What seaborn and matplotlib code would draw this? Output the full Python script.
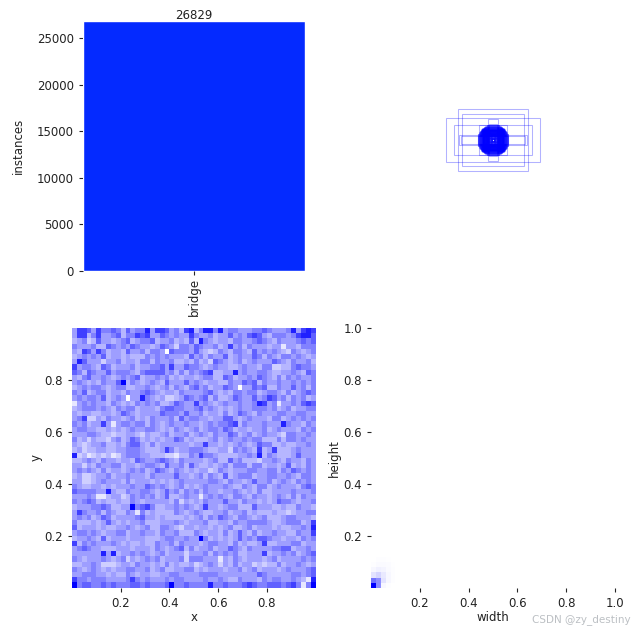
import numpy as np
import matplotlib
matplotlib.use("Agg")
import matplotlib.pyplot as plt
from matplotlib.patches import Rectangle
import seaborn as sns

classes = ["bridge"]
instances = [26829]

# box sizes as fraction of the panel, all centred on the panel middle
rect_w = [.283, .385, .316, .258, .275, .265, .045, .112,
          .004, .008, .012, .016, .02, .024, .028, .032, .036, .04, .044, .048, .052,
          .056, .06, .064, .068, .072, .076, .08, .084,
          .01, .02, .018, .03, .026, .042, .034, .05, .046, .058, .054, .066,
          .062, .074, .07, .082, .078, .088,
          .014, .022, .03, .038, .046, .054, .062, .07, .078, .086,
          .006, .012, .04, .068, .05, .076, .03, .06, .02, .05, .01, .04,
          .09, .06, .1, .05, .095, .07, .11, .04, .12, .03, .1, .085,
          .092, .08, .096, .075, .104, .065, .108, .055, .114, .045, .118, .035,
          .092, .088, .098, .082, .104, .076, .11, .066, .116, .056, .122, .046,
          .09, .094, .1, .09, .106, .072, .112, .062, .12, .05, .126, .04]
rect_h = [.258, .18, .127, .217, .045, .03, .172, .119,
          .004, .008, .016, .012, .024, .02, .032, .028, .04, .036, .048, .044, .056,
          .052, .064, .06, .072, .068, .08, .076, .084,
          .02, .01, .03, .018, .042, .026, .05, .034, .058, .046, .066, .054,
          .074, .062, .082, .07, .088, .078,
          .014, .022, .03, .038, .046, .054, .062, .07, .078, .086,
          .012, .006, .068, .04, .076, .05, .06, .03, .05, .02, .04, .01,
          .06, .09, .05, .1, .07, .095, .04, .11, .03, .13, .085, .1,
          .08, .092, .075, .096, .065, .104, .055, .108, .045, .114, .035, .118,
          .088, .092, .082, .098, .076, .104, .066, .11, .056, .116, .046, .122,
          .094, .09, .09, .1, .072, .106, .062, .112, .05, .12, .04, .126]

# x/y label density, read cell by cell (0 white .. 9 full blue), top row first
xy_rows = [
    "47764 75565 36455 84776 45378 35885 84554 44556 54445 84787",
    "47735 74456 35576 74465 45447 54453 44645 46764 35554 57886",
    "34523 64434 56345 56344 53436 38543 44355 44565 43544 45656",
    "54445 33654 54654 43465 42554 65445 34745 35444 34414 43555",
    "43764 75344 36445 35540 65554 64323 54355 43645 45432 54345",
    "34545 46344 34333 54545 44436 45354 46345 44653 54355 45434",
    "48644 42445 34435 53544 53343 53426 54345 34544 46543 54453",
    "74554 36534 44534 45564 74465 54345 44334 54435 52233 56554",
    "65365 44645 55435 66664 53535 45673 34484 54455 43344 54365",
    "43564 45434 54563 44545 34344 34553 36534 45465 43535 45445",
    "45434 35446 93543 45436 44464 54344 33544 65635 44544 54545",
    "34545 54345 53344 54345 35435 64534 46540 44656 33544 64535",
    "54634 55344 35445 65434 43544 44564 34355 45534 55435 34565",
    "45455 46345 40448 54342 23465 45635 33465 44645 76453 54534",
    "14545 44354 34354 54533 46544 74543 45445 44587 45144 54676",
    "34555 45435 45534 44356 65544 56454 34345 44555 45345 34455",
    "43443 34434 65434 44465 55464 45344 35346 54354 44554 45544",
    "45722 43544 34534 35444 53645 54434 46643 45444 35534 54545",
    "54534 47414 55455 35434 54454 43454 55673 54445 44485 44354",
    "45544 33434 34544 55434 35434 53455 46534 43445 34544 43545",
    "44455 43323 34432 43345 34453 45435 44653 45345 44325 54454",
    "53424 33245 34653 43434 46534 33345 34544 54553 33535 54544",
    "43234 45334 35664 35344 44443 44744 34345 43465 53343 34454",
    "34233 44334 45554 33347 53445 55433 44254 54373 47333 45444",
    "82312 32312 45554 43332 21335 47554 33334 45483 54333 46444",
    "33454 35443 44365 44565 43544 44345 33645 33324 45435 44354",
    "44243 54455 34434 55436 44536 43343 45355 53553 44346 34354",
    "45454 35344 34545 34654 35434 34423 54344 45544 55354 65454",
    "34223 44534 45444 35444 46443 45354 36345 55344 55445 43554",
    "44223 45444 35344 43434 34544 44455 43544 34644 53454 35454",
    "54334 43434 44544 65454 34534 34544 45433 54355 34544 43565",
    "65555 44843 35445 54346 45354 53544 34454 34353 34444 54445",
    "44454 11344 23545 45346 33454 41454 54355 43544 34543 53544",
    "54565 34334 33543 44444 35243 43544 46443 54434 34655 43445",
    "34445 56533 44956 75334 45454 34744 34553 33644 43343 35443",
    "47544 53543 35415 34333 35434 54334 45344 53433 34332 34455",
    "45453 46534 44456 44343 33343 45354 65435 54345 33345 54443",
    "53334 34643 43445 33344 45434 44533 44354 45555 43345 55347",
    "63444 34334 45434 53355 43244 34434 34533 45344 43433 44548",
    "45545 43445 53445 44354 45333 54344 35346 43534 45443 35447",
    "34454 36344 43444 33345 54454 49534 34346 45466 54434 43545",
    "73545 44454 34334 33544 53544 43455 44353 43347 33444 55344",
    "45654 43334 44344 43543 45635 34453 44654 35444 45566 34454",
    "44444 48483 44545 43453 44424 44535 45453 34447 34454 53456",
    "54344 45434 52434 54534 44525 55444 14354 34443 45344 44545",
    "33445 42223 44354 43435 34334 23454 24353 44232 33534 45434",
    "54345 43434 45544 53453 34455 34344 43445 34534 44345 44456",
    "44555 44343 35434 43344 55444 45555 44444 44465 44444 55456",
    "75545 55444 45754 54445 45544 44544 54335 44435 45544 54318",
    "95665 56565 55665 65556 95565 55585 56555 67655 66656 75159",
]

# width/height density near the origin, bottom row first
wh_rows = [
    [9, 4, 0.3, 0.1, 0],
    [5, 4, 1, 0.3, 0.1],
    [1, 1.5, 0.8, 0.3, 0.1],
    [0.3, 0.5, 0.4, 0.2, 0.1],
    [0.1, 0.2, 0.2, 0.15, 0.05],
    [0, 0.1, 0.1, 0.05, 0],
]

bins = 50
blue = "#0000ff"

sns.set_style("ticks")
plt.rcParams["font.family"] = "DejaVu Sans"
plt.rcParams["font.size"] = 8.5
plt.rcParams["axes.labelsize"] = 8.5
plt.rcParams["xtick.labelsize"] = 8.5
plt.rcParams["ytick.labelsize"] = 8.5
plt.rcParams["text.color"] = "#222222"
plt.rcParams["axes.labelcolor"] = "#222222"
plt.rcParams["xtick.labelcolor"] = "#222222"
plt.rcParams["ytick.labelcolor"] = "#222222"
plt.rcParams["xtick.major.size"] = 3
plt.rcParams["ytick.major.size"] = 3

W, H = 634, 631
fig = plt.figure(figsize=(W / 100, H / 100), dpi=100)
white_blue = sns.blend_palette(["white", "#9292ff", blue], as_cmap=True)
white_blue_wh = sns.blend_palette(["white", blue], as_cmap=True)


def panel(x0, x1, y0, y1):
    return fig.add_axes([x0 / W, 1 - y1 / H, (x1 - x0) / W, (y1 - y0) / H])


ax_bar = panel(83, 305, 21, 271)
ax_box = panel(371, 615, 18, 262)
ax_xy = panel(72, 315.5, 328, 587.5)
ax_wh = panel(371, 615, 328, 588)

# class counts
sns.barplot(x=classes, y=instances, color="#042AFF", saturation=1, width=1, ax=ax_bar)
ax_bar.set_xlim(-0.5, 0.5)
ax_bar.set_ylim(0, instances[0])
ax_bar.set_ylabel("instances", labelpad=9)
ax_bar.set_yticks([0, 5000, 10000, 15000, 20000, 25000])
ax_bar.tick_params(axis="x", rotation=90, pad=2)
ax_bar.bar_label(ax_bar.containers[0], padding=-1, fontsize=8.5)

# boxes
ax_box.set_xlim(0, 1)
ax_box.set_ylim(0, 1)
ax_box.axis("off")
for w, h in zip(rect_w, rect_h):
    ax_box.add_patch(Rectangle((0.5 - w / 2, 0.5 - h / 2), w, h, fill=False,
                               edgecolor=blue, linewidth=0.75, alpha=0.3))

# x / y
xy = np.array([[int(c) for c in r.replace(" ", "")] for r in xy_rows], dtype=float)
edges = np.linspace(0, 1, bins + 1)
centres = (edges[:-1] + edges[1:]) / 2
gx, gy = np.meshgrid(centres, centres[::-1])
sns.histplot(x=gx.ravel(), y=gy.ravel(), weights=xy.ravel(), bins=[edges, edges],
             cmap=white_blue, vmin=0, vmax=9, thresh=None, ax=ax_xy)
ax_xy.set_xlim(0, 1)
ax_xy.set_ylim(0, 1)
ax_xy.set_xticks([0.2, 0.4, 0.6, 0.8])
ax_xy.set_yticks([0.2, 0.4, 0.6, 0.8])
ax_xy.set_xlabel("x", labelpad=1)
ax_xy.set_ylabel("y", labelpad=1)

# width / height
wh = np.array(wh_rows, dtype=float)
gw, gh = np.meshgrid(centres[:wh.shape[1]], centres[:wh.shape[0]])
sns.histplot(x=gw.ravel(), y=gh.ravel(), weights=wh.ravel(), bins=[edges, edges],
             cmap=white_blue_wh, vmin=0, vmax=9, thresh=0, ax=ax_wh)
ax_wh.set_xlim(0, 1)
ax_wh.set_ylim(0, 1)
ax_wh.set_xticks([0.2, 0.4, 0.6, 0.8, 1.0])
ax_wh.set_yticks([0.2, 0.4, 0.6, 0.8, 1.0])
ax_wh.set_xlabel("width", labelpad=1)
ax_wh.set_ylabel("height", labelpad=2)

sns.despine(ax=ax_bar, left=True, bottom=True)
sns.despine(ax=ax_xy, left=True, bottom=True)
sns.despine(ax=ax_wh, left=True, bottom=True)

fig.text(581 / W, 1 - 620 / H, "CSDN @zy_destiny", color="#bcc0c4", fontsize=7.5,
         ha="center", va="center")

fig.savefig("out.png", dpi=100)
